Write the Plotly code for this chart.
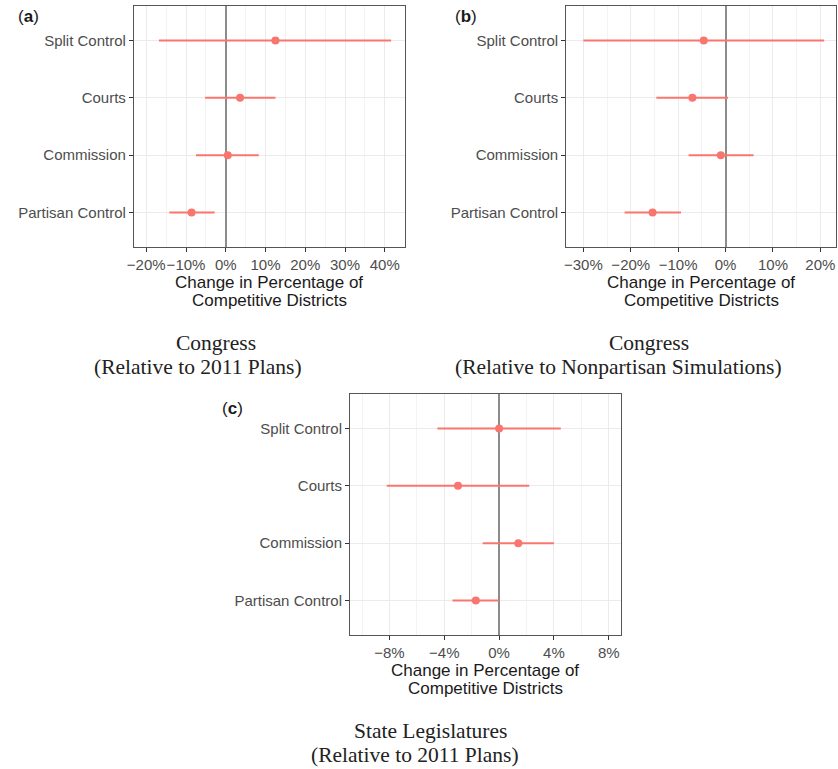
import plotly.graph_objects as go

# Reform types (listed bottom-to-top on the categorical axis)
categories = ["Partisan Control", "Commission", "Courts", "Split Control"]

# (a) Congress, relative to 2011 plans (percentage points)
a_est = [-8.6, 0.5, 3.6, 12.5]
a_lo = [-14.2, -7.5, -5.2, -16.8]
a_hi = [-2.8, 8.3, 12.5, 41.6]

# (b) Congress, relative to nonpartisan simulations
b_est = [-15.4, -1.0, -7.0, -4.6]
b_lo = [-21.3, -7.8, -14.6, -30.0]
b_hi = [-9.4, 5.9, 0.5, 20.8]

# (c) State legislatures, relative to 2011 plans
c_est = [-1.7, 1.4, -3.0, 0.0]
c_lo = [-3.4, -1.2, -8.2, -4.5]
c_hi = [0.0, 4.0, 2.2, 4.5]

W, H = 838, 769
POINT = "#F8766D"
SANS = "Liberation Sans, Arial, sans-serif"
SERIF = "Liberation Serif, Times New Roman, serif"

panels = [
    # (estimates, low, high, px box [x0, x1, y0, y1], x range, dtick)
    (a_est, a_lo, a_hi, [128, 401, 6, 247], [-23.1, 45.0], 10),
    (b_est, b_lo, b_hi, [564, 836, 6, 247], [-33.6, 23.3], 10),
    (c_est, c_lo, c_hi, [346, 619, 394, 635], [-10.87, 8.88], 4),
]

fig = go.Figure()
layout = dict(
    width=W, height=H, margin=dict(l=0, r=0, t=0, b=0),
    paper_bgcolor="white", plot_bgcolor="white", showlegend=False,
)
annotations = []

for i, (est, lo, hi, box, xr, dt) in enumerate(panels):
    n = "" if i == 0 else str(i + 1)
    x0, x1, y0, y1 = box
    fig.add_trace(go.Scatter(
        x=est, y=categories, mode="markers",
        xaxis="x" + n, yaxis="y" + n,
        marker=dict(color=POINT, size=8),
        error_x=dict(
            type="data", symmetric=False,
            array=[h - e for h, e in zip(hi, est)],
            arrayminus=[e - l for e, l in zip(est, lo)],
            color=POINT, thickness=2, width=0,
        ),
    ))
    layout["xaxis" + n] = dict(
        domain=[x0 / W, x1 / W], anchor="y" + n, range=xr,
        tickmode="linear", tick0=0, dtick=dt, ticksuffix="%", tickangle=0,
        showgrid=True, gridcolor="#ebebeb", gridwidth=1,
        minor=dict(tickmode="linear", tick0=0, dtick=dt / 2,
                   showgrid=True, gridcolor="#f3f3f3", gridwidth=0.8),
        zeroline=True, zerolinecolor="#8c8c8c", zerolinewidth=1.5,
        showline=True, mirror=True, linecolor="#555555", linewidth=1.2,
        ticks="outside", ticklen=4, tickcolor="#333333", tickwidth=1,
        tickfont=dict(family=SANS, size=15, color="#4d4d4d"),
        fixedrange=True,
    )
    layout["yaxis" + n] = dict(
        domain=[1 - y1 / H, 1 - y0 / H], anchor="x" + n,
        type="category", categoryorder="array", categoryarray=categories,
        range=[-0.6, 3.6],
        showgrid=True, gridcolor="#ebebeb", gridwidth=1,
        zeroline=False,
        showline=True, mirror=True, linecolor="#555555", linewidth=1.2,
        ticks="outside", ticklen=4, tickcolor="#333333", tickwidth=1,
        tickfont=dict(family=SANS, size=15, color="#4d4d4d"),
        fixedrange=True,
    )
    cx = (x0 + x1) / 2
    annotations.append(dict(
        x=cx / W, y=1 - (y1 + 35) / H, xref="paper", yref="paper",
        text="Change in Percentage of", showarrow=False,
        font=dict(family=SANS, size=17, color="#1a1a1a"),
        xanchor="center", yanchor="middle",
    ))
    annotations.append(dict(
        x=cx / W, y=1 - (y1 + 53) / H, xref="paper", yref="paper",
        text="Competitive Districts", showarrow=False,
        font=dict(family=SANS, size=17, color="#1a1a1a"),
        xanchor="center", yanchor="middle",
    ))

# Panel letters
for lab, (lx, ly) in zip(["a", "b", "c"], [(9, 17), (450, 17), (215, 408)]):
    annotations.append(dict(
        x=lx / W, y=1 - ly / H, xref="paper", yref="paper",
        text="(<b>%s</b>)" % lab, showarrow=False,
        font=dict(family=SANS, size=17, color="#1a1a1a"),
        xanchor="left", yanchor="middle",
    ))

# Captions beneath each panel
captions = [
    ("Congress", 211, 343), ("(Relative to 2011 Plans)", 193, 367),
    ("Congress", 647, 343), ("(Relative to Nonpartisan Simulations)", 617, 367),
    ("State Legislatures", 427, 731), ("(Relative to 2011 Plans)", 411, 755),
]
for txt, cx, cy in captions:
    annotations.append(dict(
        x=cx / W, y=1 - cy / H, xref="paper", yref="paper",
        text=txt, showarrow=False,
        font=dict(family=SERIF, size=21.5, color="#222222"),
        xanchor="center", yanchor="middle",
    ))

layout["annotations"] = annotations
fig.update_layout(**layout)
fig.write_html("out.html")
